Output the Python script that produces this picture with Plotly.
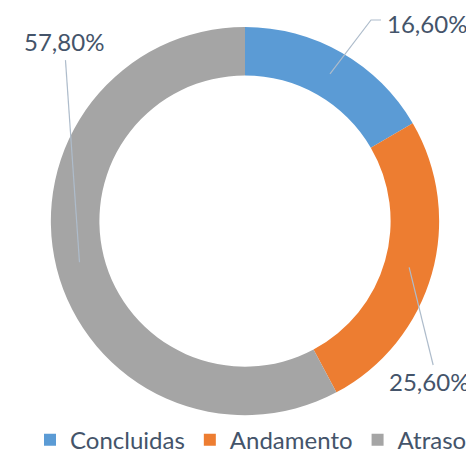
import math
import plotly.graph_objects as go

categories = ["Concluidas", "Andamento", "Atraso"]
values = [16.6, 25.6, 57.8]
label_texts = ["16,60%", "25,60%", "57,80%"]
colors = ["#5b9bd5", "#ed7d31", "#a5a5a5"]

HOLE = 0.75
W, H = 474, 455
OFF = 8  # page body margin of the browser
# pie box in screen pixels (left, top, right, bottom)
PX0, PY0, PX1, PY1 = 50, 27, 440, 417
CX, CY = (PX0 + PX1) / 2, (PY0 + PY1) / 2
R = (PX1 - PX0) / 2

# label offsets (pixels) from the slice mid-point: text centre and leader-line bends
text_off = [(97, -50), (20, 115), (-15, -222)]
line_off = [[(41, -54), (51, -54)], [(24, 98)], [(-14, -203)]]


def to_paper(px, py):
    return (px - OFF) / W, (H - (py - OFF)) / H


dx0, dy1 = to_paper(PX0, PY1)
dx1, dy0 = to_paper(PX1, PY0)

fig = go.Figure(go.Pie(
    labels=categories, values=values, hole=HOLE, sort=False,
    direction="clockwise", rotation=0, textinfo="none", hoverinfo="label+percent",
    marker=dict(colors=colors, line=dict(color="white", width=0)),
    domain=dict(x=[dx0, dx1], y=[dy1, dy0]),
))

total = sum(values)
r_mid = R * (1 + HOLE) / 2
cum = 0
annotations, shapes = [], []
for i, v in enumerate(values):
    frac = (cum + v / 2) / total
    cum += v
    th = 2 * math.pi * frac
    tx = CX + r_mid * math.sin(th)
    ty = CY - r_mid * math.cos(th)
    ox, oy = text_off[i]
    ax_, ay_ = to_paper(tx + ox, ty + oy)
    annotations.append(dict(
        x=ax_, y=ay_, xref="paper", yref="paper", text=label_texts[i],
        showarrow=False, xanchor="center", yanchor="middle",
        font=dict(family="Lato", size=24, color="#44546a"),
    ))
    px, py = to_paper(tx, ty)
    path = f"M {px},{py}"
    for dx, dy in line_off[i]:
        qx, qy = to_paper(tx + dx, ty + dy)
        path += f" L {qx},{qy}"
    shapes.append(dict(type="path", path=path, xref="paper", yref="paper",
                       line=dict(color="#aebccb", width=1.2)))

lx, ly = to_paper(251, 442)
fig.update_layout(
    width=W, height=H, autosize=False,
    margin=dict(l=0, r=0, t=0, b=0),
    paper_bgcolor="white", plot_bgcolor="white",
    showlegend=True,
    legend=dict(orientation="h", x=lx, xanchor="center", y=ly, yanchor="middle",
                font=dict(family="Lato", size=24, color="#44546a"),
                itemwidth=30, tracegroupgap=0, bgcolor="rgba(0,0,0,0)"),
    annotations=annotations, shapes=shapes,
)

fig.write_html("out.html")
